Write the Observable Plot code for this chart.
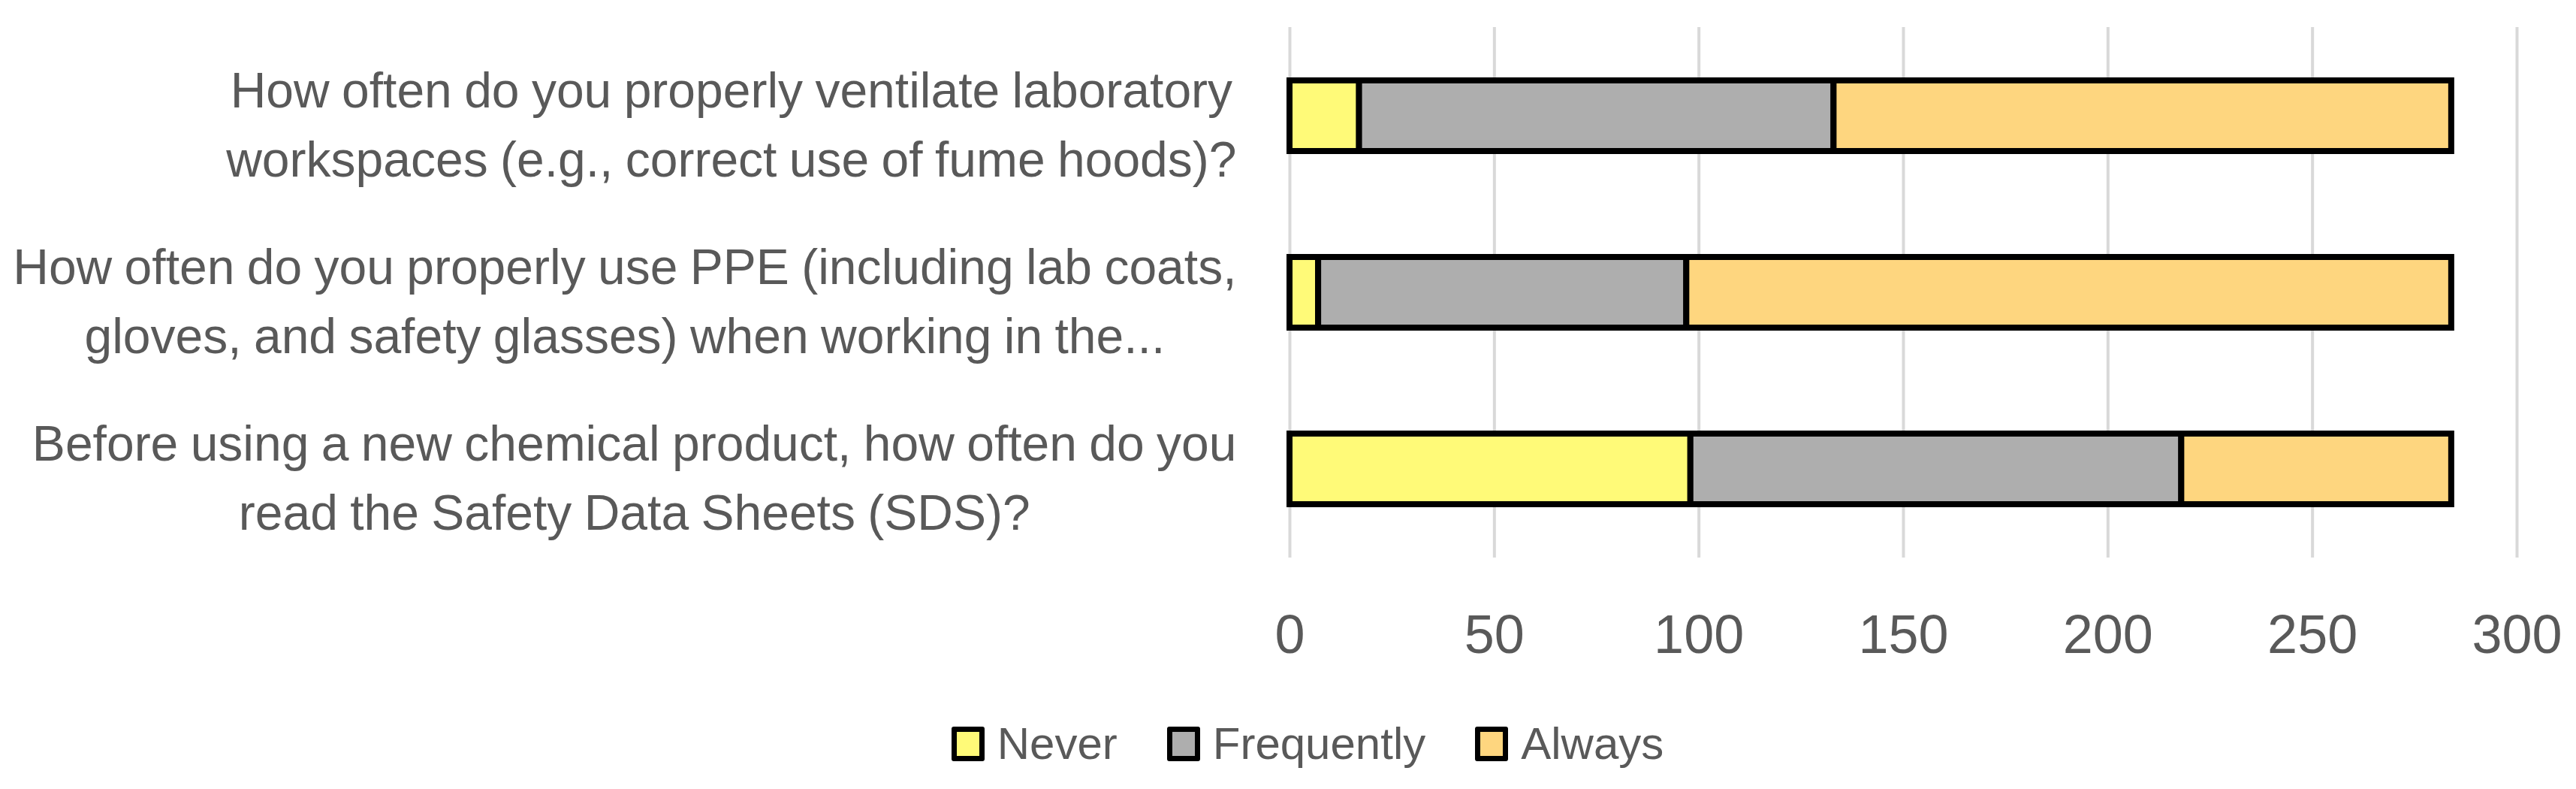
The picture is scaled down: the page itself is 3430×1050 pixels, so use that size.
<!DOCTYPE html>
<html>
<head>
<meta charset="utf-8">
<script src="https://cdn.jsdelivr.net/npm/d3@7"></script>
<script src="https://cdn.jsdelivr.net/npm/@observablehq/plot@0.6"></script>
<style>
  html, body { margin: 0; padding: 0; background: #ffffff; }
  body { width: 3430px; height: 1050px; overflow: hidden; font-family: "Liberation Sans", Arial, sans-serif; }
  #legend { position: relative; height: 120px; width: 3430px; display: flex; justify-content: center; align-items: center; padding-left: 52px; box-sizing: border-box; }
  .item { display: flex; align-items: center; margin: 0 33px; }
  .sw { width: 30px; height: 32px; border: 7px solid #000; border-radius: 3px; margin-right: 17px; }
  .lab { font-size: 60px; color: #595959; line-height: 1; }
  g[aria-label="y-axis tick label"] text { word-spacing: -2px; }
</style>
</head>
<body>
<div id="chart"></div>
<div id="legend"></div>
<script>
const questions = [
  "How often do you properly ventilate laboratory\nworkspaces (e.g., correct use of fume hoods)?",
  "How often do you properly use PPE (including lab coats,\ngloves, and safety glasses) when working in the...",
  "Before using a new chemical product, how often do you\nread the Safety Data Sheets (SDS)?"
];
const responses = ["Never", "Frequently", "Always"];
const never = [17, 7, 98];
const frequently = [116, 90, 120];
const always = [151, 187, 66];
const colors = ["#FFFA78", "#AEAEAE", "#FED67F"];
const xTicks = [0, 50, 100, 150, 200, 250, 300];

const series = [never, frequently, always];
const rows = [];
questions.forEach((q, i) => {
  responses.forEach((r, j) => rows.push({question: q, response: r, value: series[j][i]}));
});

const chart = Plot.plot({
  width: 3430,
  height: 930,
  marginLeft: 1717,
  marginRight: 79,
  marginTop: 36,
  marginBottom: 188,
  style: {fontFamily: "'Liberation Sans', Arial, sans-serif", background: "#ffffff", color: "#595959"},
  x: {domain: [0, 300]},
  y: {domain: questions, paddingInner: 0.6, paddingOuter: 0.3},
  color: {domain: responses, range: colors},
  marks: [
    Plot.gridX(xTicks, {stroke: "#D9D9D9", strokeOpacity: 1, strokeWidth: 4}),
    Plot.barX(rows, {x: "value", y: "question", fill: "response", stroke: "#000000", strokeWidth: 8, inset: 0}),
    Plot.axisX({ticks: xTicks, tickSize: 0, tickPadding: 75, fontSize: 72, fill: "#595959", label: null}),
    Plot.axisY({tickSize: 0, tickPadding: 71, dy: 5, fontSize: 66, fill: "#595959", lineHeight: 1.39, label: null})
  ]
});
document.getElementById("chart").appendChild(chart);

// centre each wrapped category label inside its own box (right edge at the axis)
chart.querySelectorAll('g[aria-label="y-axis tick label"] text').forEach(t => {
  const spans = t.querySelectorAll("tspan");
  if (!spans.length) return;
  let maxW = 0;
  spans.forEach(s => { maxW = Math.max(maxW, s.getComputedTextLength()); });
  t.setAttribute("text-anchor", "middle");
  t.style.textAnchor = "middle";
  spans.forEach(s => s.setAttribute("x", -maxW / 2));
});

const legend = document.getElementById("legend");
responses.forEach((r, i) => {
  const item = document.createElement("div");
  item.className = "item";
  const sw = document.createElement("div");
  sw.className = "sw";
  sw.style.background = colors[i];
  const lab = document.createElement("span");
  lab.className = "lab";
  lab.textContent = r;
  item.appendChild(sw);
  item.appendChild(lab);
  legend.appendChild(item);
});
</script>
</body>
</html>
